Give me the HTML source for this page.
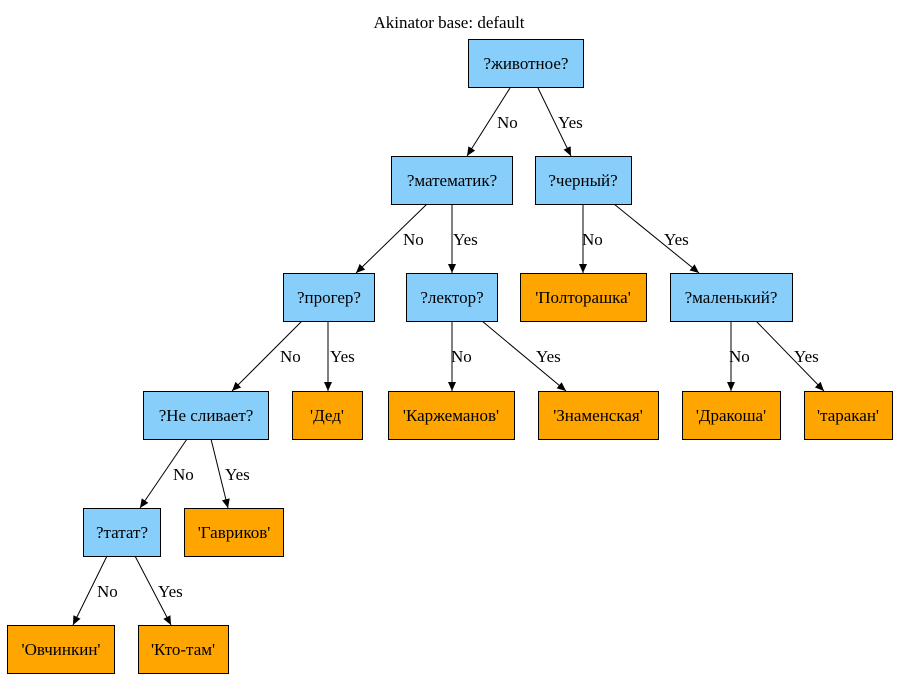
<!DOCTYPE html>
<html><head><meta charset="utf-8"><style>
body{margin:0;background:#fff}
svg text{font-family:"Liberation Serif","DejaVu Serif",serif;font-size:17px;fill:#000}
</style></head><body>
<svg width="899" height="680" xmlns="http://www.w3.org/2000/svg">
<defs><marker id="a" markerWidth="10" markerHeight="10" refX="9" refY="4" orient="auto" markerUnits="userSpaceOnUse"><path d="M0,0 L9,4 L0,8 z" fill="#000"/></marker></defs>
<text x="449" y="28" text-anchor="middle">Akinator base: default</text>
<g stroke="#000" stroke-width="1" marker-end="url(#a)">
<line x1="510" y1="88" x2="467" y2="156"/>
<line x1="538" y1="88" x2="571" y2="156"/>
<line x1="427" y1="204" x2="356" y2="273"/>
<line x1="452" y1="204" x2="452" y2="273"/>
<line x1="583" y1="204" x2="583" y2="273"/>
<line x1="614" y1="204" x2="699" y2="273"/>
<line x1="302" y1="321" x2="232" y2="391"/>
<line x1="328" y1="321" x2="328" y2="391"/>
<line x1="452" y1="321" x2="452" y2="391"/>
<line x1="482" y1="321" x2="566" y2="391"/>
<line x1="731" y1="321" x2="731" y2="391"/>
<line x1="756" y1="321" x2="824" y2="391"/>
<line x1="187" y1="439" x2="140" y2="508"/>
<line x1="211" y1="439" x2="228" y2="508"/>
<line x1="107" y1="556" x2="73" y2="625"/>
<line x1="135" y1="556" x2="171" y2="625"/>
</g>
<g>
<text x="497" y="128">No</text><text x="558" y="128">Yes</text>
<text x="403" y="245">No</text><text x="453" y="245">Yes</text>
<text x="582" y="245">No</text><text x="664" y="245">Yes</text>
<text x="280" y="362">No</text><text x="330" y="362">Yes</text>
<text x="451" y="362">No</text><text x="536" y="362">Yes</text>
<text x="729" y="362">No</text><text x="794" y="362">Yes</text>
<text x="173" y="480">No</text><text x="225" y="480">Yes</text>
<text x="97" y="597">No</text><text x="158" y="597">Yes</text>
</g>
<g stroke="#000" stroke-width="1">
<rect x="468.5" y="39.5" width="115" height="48" fill="#87cefa"/>
<rect x="391.5" y="156.5" width="121" height="48" fill="#87cefa"/>
<rect x="535.5" y="156.5" width="96" height="48" fill="#87cefa"/>
<rect x="283.5" y="273.5" width="91" height="48" fill="#87cefa"/>
<rect x="406.5" y="273.5" width="91" height="48" fill="#87cefa"/>
<rect x="520.5" y="273.5" width="126" height="48" fill="#ffa500"/>
<rect x="670.5" y="273.5" width="122" height="48" fill="#87cefa"/>
<rect x="143.5" y="391.5" width="125" height="48" fill="#87cefa"/>
<rect x="292.5" y="391.5" width="70" height="48" fill="#ffa500"/>
<rect x="388.5" y="391.5" width="126" height="48" fill="#ffa500"/>
<rect x="538.5" y="391.5" width="120" height="48" fill="#ffa500"/>
<rect x="682.5" y="391.5" width="98" height="48" fill="#ffa500"/>
<rect x="804.5" y="391.5" width="88" height="48" fill="#ffa500"/>
<rect x="83.5" y="508.5" width="77" height="48" fill="#87cefa"/>
<rect x="184.5" y="508.5" width="99" height="48" fill="#ffa500"/>
<rect x="7.5" y="625.5" width="107" height="48" fill="#ffa500"/>
<rect x="138.5" y="625.5" width="90" height="48" fill="#ffa500"/>
</g>
<g text-anchor="middle">
<text x="526" y="69">?животное?</text>
<text x="452" y="186">?математик?</text>
<text x="583" y="186">?черный?</text>
<text x="329" y="303">?прогер?</text>
<text x="452" y="303">?лектор?</text>
<text x="583" y="303">'Полторашка'</text>
<text x="731" y="303">?маленький?</text>
<text x="206" y="421">?Не сливает?</text>
<text x="327" y="421">'Дед'</text>
<text x="451" y="421">'Каржеманов'</text>
<text x="598" y="421">'Знаменская'</text>
<text x="731" y="421">'Дракоша'</text>
<text x="848" y="421">'таракан'</text>
<text x="122" y="538">?татат?</text>
<text x="234" y="538">'Гавриков'</text>
<text x="61" y="655">'Овчинкин'</text>
<text x="183" y="655">'Кто-там'</text>
</g>
</svg>
</body></html>
